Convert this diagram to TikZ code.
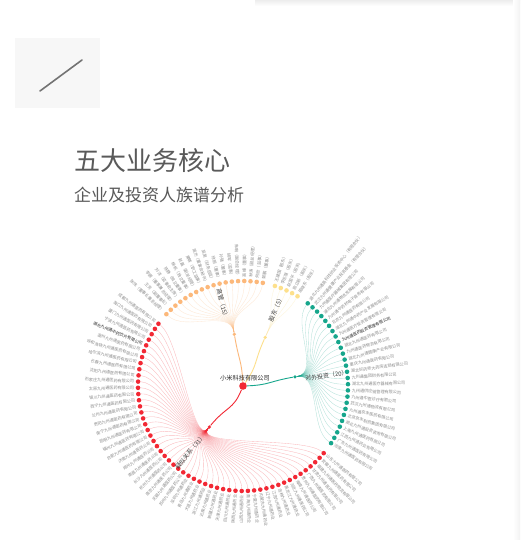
\documentclass[tikz,border=0pt]{standalone}
\usepackage{fontspec}
\newfontfamily\cjk{Noto Sans CJK SC}
\usetikzlibrary{backgrounds}
\definecolor{zred}{RGB}{242,40,52}
\definecolor{zora}{RGB}{252,184,122}
\definecolor{zyel}{RGB}{253,224,140}
\definecolor{zgrn}{RGB}{22,166,140}
\definecolor{ztxt}{RGB}{90,90,90}
\tikzset{
  zroot/.style={circle,fill=zred,inner sep=0pt,minimum size=7.6pt},
  zmid/.style={circle,inner sep=0pt,minimum size=3.6pt},
  zleaf/.style={circle,inner sep=0pt,minimum size=4.6pt},
  zlink/.style={line width=0.35pt,opacity=0.32},
  ztrunk/.style={line width=0.9pt},
  zname/.style={font=\cjk\fontsize{4.1}{5}\selectfont,text=black!45,inner sep=0pt},
  zgrp/.style={font=\cjk\fontsize{6}{7}\selectfont,text=black!75,inner sep=0pt},
}
\newcommand{\zstep}{3.396}
\newcommand{\zhi}[1]{{\color{black!85}#1}}
% #1 = prefix, #2 = colour, #3 = first slot, #4 = angle of the branch node, #5 = names
\newcommand{\zbranch}[5]{%
  \foreach \nm [count=\i from 0] in {#5}{
    \pgfmathsetmacro\a{72.3-(#3+\i)*\zstep}
    \node[zleaf,fill=#2] (#1\i) at (\a:105) {};
    \begin{scope}[on background layer]
      \draw[zlink,#2] (m#1) .. controls (#4:79) and (\a:79) .. (#1\i);
    \end{scope}
    \pgfmathtruncatemacro\lft{and(\a<-90,\a>-270)}
    \ifnum\lft=1
      \node[zname,anchor=east,rotate=\a+180] (t#1\i) at (\a:108.8) {\nm};
    \else
      \node[zname,anchor=west,rotate=\a] (t#1\i) at (\a:108.8) {\nm};
    \fi
  }}

\begin{document}
\begin{tikzpicture}[x=1pt,y=1pt]
\useasboundingbox (-243,-154) rectangle (277,386);
\begin{scope}[on background layer]
  \fill[white] (-243,-154) rectangle (277,386);
\end{scope}
% ---- page furniture
\shade[top color=black!7,bottom color=white] (12,386) rectangle (277,380);
\shade[left color=white,right color=black!5] (270,386) rectangle (277,-154);
\fill[black!3] (-228,348) rectangle (-143,278);
\draw[black!55,line width=1.6pt,line cap=round] (-203,295) -- (-161,326);
\node[font=\cjk\fontsize{26}{26}\selectfont,text=ztxt,anchor=west,inner sep=0pt] (title) at (-169,225) {五大业务核心};
\node[font=\cjk\fontsize{17}{17}\selectfont,text=black!65,anchor=west,inner sep=0pt] (subtitle) at (-169,191) {企业及投资人族谱分析};
% ---- root and the four branch nodes
\node[zroot] (root) at (0,0) {};
\node[zgrp,text=black!85,font=\cjk\fontsize{6.2}{7}\selectfont] (rootlab) at (2,8) {小米科技有限公司};
\node[zmid,fill=zyel] (my) at (65.5:53.4) {};
\node[zmid,fill=zgrn] (mg) at (10:52.8) {};
\node[zmid,fill=zred] (mr) at (-129.4:53) {};
\node[zmid,fill=zora] (mo) at (99.5:52.4) {};
\begin{scope}[on background layer]
  \draw[ztrunk,zred] (root) .. controls (-112:26) and (-129.4:26) .. (mr);
  \draw[ztrunk,zgrn] (root) .. controls (2:26) and (10:26) .. (mg);
  \draw[ztrunk,zora] (root) .. controls (93:26) and (99.5:26) .. (mo);
  \draw[ztrunk,zyel] (root) .. controls (55:26) and (65.5:26) .. (my);
\end{scope}
% ---- leaves, clockwise from the top
\zbranch{y}{zyel}{0}{65.5}{王建国（股东）,李志强（股东）,赵国平（股东）,陈立新（股东）,周晓东（股东）}
\zbranch{g}{zgrn}{6}{10}{湖北九州通高科技创业投资中心（有限合伙）,武汉九州通健康产业投资基金（有限合伙）,九州通医疗器械集团有限公司,湖北九州通物流发展有限公司,九州通中药材电子商务有限公司,北京九州通医药有限公司,湖北九州通中药产业发展有限公司,九州通医疗投资管理有限公司,\zhi{九州通医药投资管理有限公司},湖北九州通医药有限公司,九州通医药物流有限公司,湖北九州通健康产业有限公司,重庆九州通医药有限公司,湖北好药师大药房连锁有限公司,九州通集团财务有限公司,湖北九州通医疗器械有限公司,九州通供应链管理有限公司,九州通中医诊疗有限公司,武汉九州通物流有限公司,九州通京丰医药有限公司,北京京丰制药集团有限公司,湖北九州通投资咨询有限公司,上海九州通医药有限公司,江西九州通药业有限公司,广东九州通医药有限公司,河南九州通医药有限公司}
\zbranch{r}{zred}{33}{-129.4}{山东九州通医药有限公司,安徽九州通医药有限公司,福建九州通医药物流有限公司,甘肃九州通医药有限公司,广西九州通医药有限公司,贵州九州通医药有限公司,海南九州通医药公司,河北九州通医药公司,黑龙江九州通药业,吉林九州通药业,江苏九州通药业,辽宁九州通药业,内蒙古九州通药业,宁夏九州通药业,青海九州通药业,山西九州通药业,陕西九州通药业,四川九州通药业,天津九州通药业,新疆九州通药业,云南九州通药业,浙江九州通药业,大连九州通药业,青岛九州通药业,深圳九州通药业,苏州九州通医药公司,无锡九州通医药公司,南京九州通医药公司,杭州九州通医药公司,长沙九州通医药公司,南昌九州通医药公司,郑州九州通医药公司,济南九州通医药公司,合肥九州通医药有限公司,福州九州通医药有限公司,昆明九州通医药有限公司,南宁九州通医药有限公司,贵阳九州通医药有限公司,兰州九州通医药有限公司,西宁九州通医药有限公司,银川九州通医药有限公司,太原九州通医药有限公司,石家庄九州通医药有限公司,沈阳九州通医药有限公司,长春九州通医药有限公司,哈尔滨九州通医药有限公司,呼和浩特九州通医药有限公司,温州九州通医药有限公司,\zhi{湖北九州通中药饮片有限公司},宁波九州通医药有限公司,厦门九州通医药有限公司,海口九州通医药有限公司,成都九州通医药有限公司}
\zbranch{o}{zora}{87}{99.5}{张伟（董事长兼总经理）,王芳（副董事长）,李娜（董事兼总经理）,刘洋（监事会主席）,陈静（独立董事）,杨帆（独立董事）,赵磊（副总经理）,黄敏（职工监事）,周杰（董事会秘书）,吴昊（财务总监）,徐丽（董事）,孙强（董事）,胡军（监事）,朱琳（副总经理）,高峰（董事）,林涛（副总经理）,何欣（监事）,郭鹏（董事）}
% ---- branch labels
\node[zgrp,rotate=-76] (lo) at (104:84.5) {高管（15）};
\node[zgrp,rotate=66.8] (ly) at (66.8:83.8) {股东（5）};
\node[zgrp,rotate=8] (lg) at (7:84) {对外投资（20）};
\node[zgrp,rotate=51.2] (lr) at (-128.8:84.6) {疑似关系（31）};
\end{tikzpicture}
\end{document}
